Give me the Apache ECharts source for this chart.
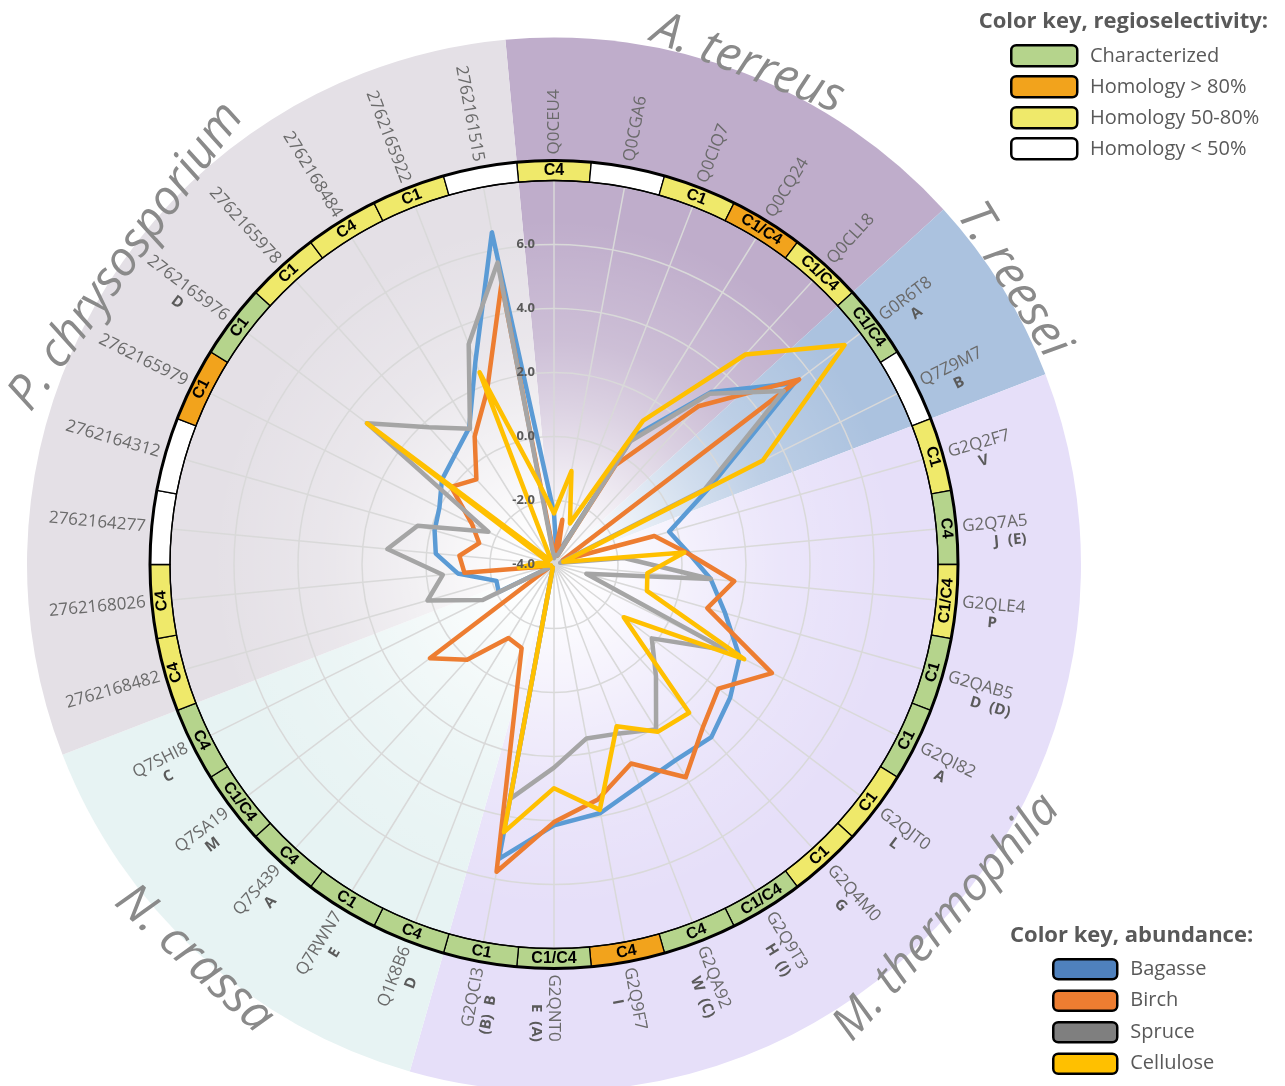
<!DOCTYPE html>
<html><head><meta charset="utf-8">
<script src="https://cdn.jsdelivr.net/npm/echarts@6/dist/echarts.min.js"></script>
<style>html,body{margin:0;padding:0;background:#fff}#c{width:1285px;height:1086px}</style>
</head><body><div id="c"></div>
<script>
// ---------------- DATA ----------------
const categories = ['Q0CEU4','Q0CGA6','Q0CIQ7','Q0CQ24','Q0CLL8','G0R6T8','Q7Z9M7','G2Q2F7','G2Q7A5','G2QLE4','G2QAB5','G2QI82','G2QJT0','G2Q4M0','G2Q9T3','G2QA92','G2Q9F7','G2QNT0','G2QCI3','Q1K8B6','Q7RWN7','Q7S439','Q7SA19','Q7SHI8','2762168482','2762168026','2762164277','2762164312','2762165979','2762165976','2762165978','2762168484','2762165922','2762161515'];
const subLetter = ['','','','','','A','B','V','J','P','D','A','L','G','H','W','I','E','B','D','E','A','M','C','','','','','','D','','','',''];
const subParen  = ['','','','','','','','','(E)','','(D)','','','','(I)','(C)','','(A)','(B)','','','','','','','','','','','','','','',''];
const regioSel   = ['C4','','C1','C1/C4','C1/C4','C1/C4','','C1','C4','C1/C4','C1','C1','C1','C1','C1/C4','C4','C4','C1/C4','C1','C4','C1','C4','C1/C4','C4','C4','C4','','','C1','C1','C1','C4','C1',''];
const regioClass = ['H50','LOW','H50','H80','H50','CHAR','LOW','H50','CHAR','H50','CHAR','CHAR','H50','H50','CHAR','CHAR','H80','CHAR','CHAR','CHAR','CHAR','CHAR','CHAR','CHAR','H50','H50','LOW','LOW','H80','CHAR','H50','H50','H50','LOW'];

const bagasse   = [-2.4,-3.6,-3.6,0.7,3.3,5.4,1.45,-0.26,0.2,0.92,1.56,2.48,2.9,3.3,3.2,3.4,3.9,4.15,5.36,-3.9,-3.9,-3.9,-3.9,-2.07,-2.13,-0.98,-0.29,-0.12,0.0,0.39,0.61,1.03,2.8,6.56];
const birch     = [-3.7,-2.58,-3.7,-0.35,2.69,5.6,-3.7,-0.74,0.14,1.66,0.98,3.61,2.44,2.9,3.82,2.67,3.47,4.05,5.77,-1.2,-1.3,0.03,0.86,-3.9,-3.8,-1.19,-1.03,-1.57,-1.13,0.03,-0.4,0.71,1.8,4.93];
const spruce    = [-3.8,-3.7,-3.7,0.53,3.22,5.0,1.25,-3.8,-1.8,0.92,-2.95,1.99,-0.17,0.73,2.06,1.66,1.53,2.35,3.45,-3.9,-3.9,-3.9,-3.9,-1.51,0.11,-0.51,1.23,0.43,-1.71,3.33,1.8,0.99,3.38,5.6];
const cellulose = [-2.4,-1.03,-2.62,1.29,4.88,7.38,3.29,-3.7,0.09,-1.07,-0.98,2.64,-1.27,2.27,2.15,1.42,3.8,2.99,4.51,-3.9,-3.9,-3.9,-3.9,-3.9,-3.9,-2.9,-3.5,-3.8,-3.8,3.32,-3.8,-3.8,2.44,-1.4];

const species      = ['A. terreus','T. reesei','M. thermophila','N. crassa','P. chrysosporium'];
const speciesFirst = [0,5,7,19,24];
const speciesCount = [5,2,12,5,10];
const radialTicks  = [-4,-2,0,2,4,6];
const abundanceNames = ['Bagasse','Birch','Spruce','Cellulose'];
const regioKeyNames  = ['Characterized','Homology > 80%','Homology 50-80%','Homology < 50%'];

// ---------------- STYLE / LAYOUT ----------------
const L = { cx: 554, cy: 564.5, r: 384 };
const PX = { ringOut: 404, labelR: 410, sectorR: 527, ringMid: 394 };
const speciesColor = ['#bfadcb','#abc2df','#e6dff9','#e7f3f3','#e4e0e6'];
const speciesTextR = [537,540,528,534,527];
const speciesTextShift = [0,0,-0.4,0,4];
const speciesFontSize = [48,48,46,48,48];
const regioColor = {CHAR:'#b5d48c', H80:'#f2a31c', H50:'#efe96a', LOW:'#ffffff'};
const regioKeyClass = ['CHAR','H80','H50','LOW'];
const lineColor = ['#5b9bd5','#ed7d31','#a5a5a5','#ffc000'];
const legendColor = ['#4f81bd','#ed7d31','#7f7f7f','#ffc000'];
const idFont = '17px "Open Sans"';
const subFont = 'bold 15px "Open Sans"';
const ringFont = 'bold 16px "Liberation Sans", Arial';
const N = categories.length;
const STEP = 2*Math.PI/N;

const mctx = document.createElement('canvas').getContext('2d');
function textW(s, font){ mctx.font = font; return mctx.measureText(s).width; }

// radar indicators go counter-clockwise; our arrays are clockwise from top
const radarOrder = [0]; for (let i = N-1; i >= 1; i--) radarOrder.push(i);
const toRadar = arr => radarOrder.map(i => arr[i]);

// polar coords are [radius, angle]
function thetaOf(api, cs, i){
  const p = api.coord([8, i]);
  const a = Math.atan2(p[1]-cs.cy, p[0]-cs.cx);
  let th = a + Math.PI/2; th = ((th % (2*Math.PI)) + 2*Math.PI) % (2*Math.PI);
  return {a, th};
}

function renderSpecies(params, api){
  const cs = params.coordSys, first = api.value(1), count = api.value(2), k = api.value(3);
  const t = thetaOf(api, cs, first);
  const s = t.a - STEP/2, e = s + count*STEP;
  const scale = cs.r / L.r;
  const mid = (s + e)/2 + Math.PI/2 + speciesTextShift[k]*Math.PI/180;
  const rr = speciesTextR[k]*scale;
  const thm = ((mid % (2*Math.PI)) + 2*Math.PI) % (2*Math.PI);
  const outward = thm < Math.PI/2 || thm > 3*Math.PI/2;
  return {type:'group', children:[
    {type:'sector', shape:{cx:cs.cx, cy:cs.cy, r0:0, r:PX.sectorR*scale, startAngle:s, endAngle:e, clockwise:true}, style:{fill:speciesColor[k]}},
    {type:'text', z2: 10, x: cs.cx + rr*Math.sin(thm), y: cs.cy - rr*Math.cos(thm), rotation: outward ? -thm : Math.PI - thm,
      style:{text: species[k], font:'italic ' + speciesFontSize[k] + 'px "Open Sans"', fill:'#8a8a8a', align:'center', verticalAlign:'middle'}}
  ]};
}

function renderShade(params, api){
  const cs = params.coordSys;
  return {type:'circle', shape:{cx:cs.cx, cy:cs.cy, r: 345*cs.r/L.r},
    style:{fill: new echarts.graphic.RadialGradient(0.5,0.5,0.5,[
      {offset:0,color:'rgba(255,255,255,1)'},{offset:0.15,color:'rgba(255,255,255,0.9)'},
      {offset:0.46,color:'rgba(255,255,255,0.45)'},{offset:0.65,color:'rgba(255,255,255,0.22)'},
      {offset:1,color:'rgba(255,255,255,0)'}])}};
}

function renderCategory(params, api){
  const cs = params.coordSys, i = api.value(1);
  const {a, th} = thetaOf(api, cs, i);
  const sc = cs.r / L.r;
  const sn = Math.sin(th), cn = Math.cos(th);
  const ch = [];
  ch.push({type:'sector', shape:{cx:cs.cx, cy:cs.cy, r0:cs.r, r:PX.ringOut*sc, startAngle:a-STEP/2, endAngle:a+STEP/2, clockwise:true},
    style:{fill: regioColor[regioClass[i]], stroke:'#000', lineWidth:1.3}});
  if (regioSel[i]) {
    const rm = PX.ringMid*sc;
    const out = th < Math.PI/2 || th > 250*Math.PI/180;
    ch.push({type:'text', x: cs.cx + rm*sn, y: cs.cy - rm*cn, rotation: out ? -th : Math.PI - th,
      style:{text: regioSel[i], font: ringFont, fill:'#000', align:'center', verticalAlign:'middle'}});
  }
  const right = th < Math.PI + 0.01;
  const phi = right ? Math.PI/2 - th : 3*Math.PI/2 - th;
  const r0 = PX.labelR*sc;
  ch.push({type:'text', x: cs.cx + r0*sn, y: cs.cy - r0*cn, rotation: phi,
    style:{text: categories[i], font: idFont, fill:'#6a6a6a', align: right ? 'left' : 'right', verticalAlign:'middle'}});
  if (subLetter[i]) {
    const w = textW(categories[i], idFont);
    const rc = r0 + w/2, d = 18;
    const px = cs.cx + rc*sn + d*Math.sin(phi), py = cs.cy - rc*cn + d*Math.cos(phi);
    ch.push({type:'text', x: px, y: py, rotation: phi,
      style:{text: subLetter[i], font: subFont, fill:'#5a5a5a', align:'center', verticalAlign:'middle'}});
    if (subParen[i]) {
      const wm = textW(subLetter[i], subFont), g = (right ? 1 : -1)*(wm/2 + 9);
      ch.push({type:'text', x: px + g*Math.cos(phi), y: py - g*Math.sin(phi), rotation: phi,
        style:{text: subParen[i], font: subFont, fill:'#5a5a5a', align: right ? 'left' : 'right', verticalAlign:'middle'}});
    }
  }
  return {type:'group', children: ch};
}

function renderRingBorder(params, api){
  const cs = params.coordSys, sc = cs.r/L.r;
  return {type:'group', children:[
    {type:'circle', shape:{cx:cs.cx, cy:cs.cy, r: PX.ringOut*sc}, style:{fill:'none', stroke:'#000', lineWidth:3}},
    {type:'circle', shape:{cx:cs.cx, cy:cs.cy, r: cs.r}, style:{fill:'none', stroke:'#000', lineWidth:1.3}}
  ]};
}

function renderTick(params, api){
  const v = api.value(0);
  const p = api.coord([v, 0]);
  return {type:'text', x: p[0]-19, y: p[1], style:{text: v.toFixed(1), font:'bold 13px "Open Sans"', fill:'#595959', align:'right', verticalAlign:'middle'}};
}

// ---------------- CHART ----------------
const chart = echarts.init(document.getElementById('c'), null, {renderer:'canvas'});
const graphics = [];
graphics.push({type:'text', right: 17, top: 11, style:{text:'Color key, regioselectivity:', font:'bold 22px "Open Sans"', fill:'#595959'}});
regioKeyNames.forEach((n, k) => {
  const y = 44 + k*31;
  graphics.push({type:'rect', left: 1010, top: y, shape:{width:66, height:21, r:5}, style:{fill: regioColor[regioKeyClass[k]], stroke:'#000', lineWidth:2.5}});
  graphics.push({type:'text', left: 1090, top: y+2, style:{text:n, font:'20px "Open Sans"', fill:'#595959'}});
});
graphics.push({type:'text', left: 1010, top: 925, style:{text:'Color key, abundance:', font:'bold 22px "Open Sans"', fill:'#595959'}});

chart.setOption({
  animation: false,
  backgroundColor: '#ffffff',
  graphic: graphics,
  legend: {
    orient:'vertical', left: 1047, top: 953, itemWidth: 64, itemHeight: 20, itemGap: 9,
    icon: 'roundRect', selectedMode: false,
    textStyle: {fontSize: 20, lineHeight: 20, color:'#595959', fontFamily:'Open Sans', padding:[0,0,0,8]},
    data: abundanceNames.map((n,k)=>({name:n, itemStyle:{color: legendColor[k], borderColor:'#000', borderWidth:2.5}}))
  },
  polar: { center:[L.cx, L.cy], radius: L.r },
  angleAxis: { type:'category', data: categories, startAngle: 90 + 180/N, clockwise: true, show: false },
  radiusAxis: { type:'value', min:-4, max:8, show:false },
  radar: {
    center:[L.cx, L.cy], radius: L.r, startAngle: 90, shape:'circle', splitNumber: 6, z: 1,
    indicator: radarOrder.map(i => ({name: categories[i], min:-4, max:8})),
    axisName: {show:false},
    axisLine: {lineStyle:{color:'#d9d9d9', width:1.5}},
    splitLine: {lineStyle:{color:'#d9d9d9', width:1.5}},
    splitArea: {show:false}
  },
  series: [
    {type:'custom', name:'species', coordinateSystem:'polar', z:0, silent:true,
     data: species.map((s,k)=>[8, speciesFirst[k], speciesCount[k], k]), renderItem: renderSpecies},
    {type:'custom', name:'shade', coordinateSystem:'polar', z:0, silent:true, data:[[8,0]], renderItem: renderShade},
    {type:'radar', z:4, symbol:'none', silent:true,
     data: [bagasse, birch, spruce, cellulose].map((arr,k)=>({
       name: abundanceNames[k], value: toRadar(arr),
       lineStyle:{color: lineColor[k], width:4.5, join:'round', cap:'round'},
       itemStyle:{color: lineColor[k]}
     }))},
    {type:'custom', name:'ring', coordinateSystem:'polar', z:5, silent:true,
     data: categories.map((c,i)=>[8, i]), renderItem: renderCategory},
    {type:'custom', name:'ringBorder', coordinateSystem:'polar', z:6, silent:true, data:[[8,0]], renderItem: renderRingBorder},
    {type:'custom', name:'ticks', coordinateSystem:'polar', z:6, silent:true,
     data: radialTicks.map(v=>[v, 0]), renderItem: renderTick}
  ]
});
</script>
</body></html>
